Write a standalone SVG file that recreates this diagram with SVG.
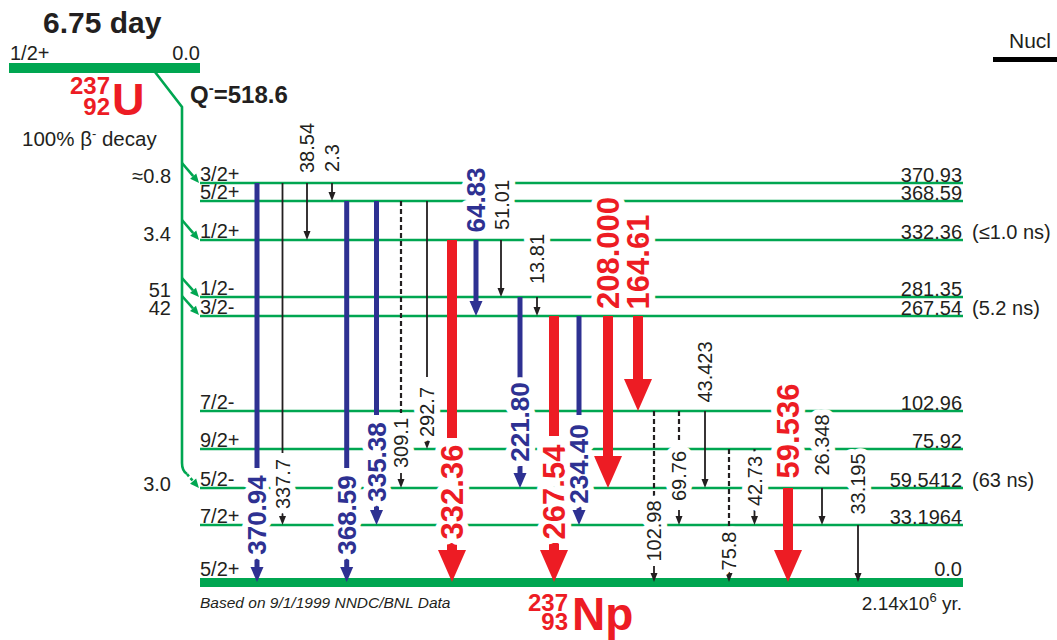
<svg xmlns="http://www.w3.org/2000/svg" width="1057" height="640" viewBox="0 0 1057 640">
<defs>
<style>
.t{font-family:"Liberation Sans",Arial,sans-serif;fill:#231f20;font-size:20px}
.e{text-anchor:end}
.b{font-weight:bold}
.lv{stroke:#00a651;stroke-width:2.6;fill:none}
.gb{fill:#00a651}
.k{stroke:#231f20;stroke-width:1.8;fill:none}
.kd{stroke:#231f20;stroke-width:2.2;fill:none;stroke-dasharray:5 3}
.bl{stroke:#2e3192;stroke-width:5;fill:none}
.rd{stroke:#ed1c24;stroke-width:10;fill:none}
.lb{font-family:"Liberation Sans",Arial,sans-serif;text-anchor:middle;stroke:#fff;stroke-width:12;stroke-linejoin:round;paint-order:stroke}
.lk{font-size:20px;fill:#231f20}
.lbl{font-size:26px;font-weight:bold;fill:#2e3192}
.lr{font-size:31px;font-weight:bold;fill:#ed1c24}
</style>
<marker id="mb" viewBox="0 -8 16 16" markerWidth="16" markerHeight="16" refX="0" refY="0" orient="auto" markerUnits="userSpaceOnUse" overflow="visible"><path d="M0,-6.5 L15,0 L0,6.5 z" fill="#2e3192"/></marker>
<marker id="mr" viewBox="0 -15 33 30" markerWidth="33" markerHeight="30" refX="0" refY="0" orient="auto" markerUnits="userSpaceOnUse" overflow="visible"><path d="M0,-14 L32,0 L0,14 z" fill="#ed1c24"/></marker>
<marker id="mk" viewBox="0 -4 10 8" markerWidth="10" markerHeight="8" refX="0" refY="0" orient="auto" markerUnits="userSpaceOnUse" overflow="visible"><path d="M0,-3.5 L9,0 L0,3.5 z" fill="#231f20"/></marker>
<marker id="mg" viewBox="0 -5 10 10" markerWidth="10" markerHeight="10" refX="0" refY="0" orient="auto" markerUnits="userSpaceOnUse" overflow="visible"><path d="M0,-4 L9,0 L0,4 z" fill="#00a651"/></marker>
</defs>
<rect width="1057" height="640" fill="#fff"/>

<g id="title">
<text class="t b" x="43" y="33" style="font-size:30px">6.75 day</text>
<text class="t" x="1009" y="48" style="font-size:21px">Nucl</text>
<rect x="993" y="57" width="64" height="5" fill="#000"/>
</g>

<g id="parent">
<rect class="gb" x="9" y="63" width="191" height="10"/>
<text class="t" x="10" y="60">1/2+</text>
<text class="t e" x="200" y="60">0.0</text>
<text class="t b" x="110" y="94" text-anchor="end" style="fill:#ed1c24;font-size:24px">237</text>
<text class="t b" x="110" y="115" text-anchor="end" style="fill:#ed1c24;font-size:24px">92</text>
<text class="t b" x="112" y="115" style="fill:#ed1c24;font-size:45px">U</text>
<text class="t b" x="190" y="103" style="font-size:24px">Q<tspan dy="-10" style="font-size:15px">-</tspan><tspan dy="10">=518.6</tspan></text>
<text class="t" x="22" y="146" style="font-size:20.5px">100% β<tspan dy="-8" style="font-size:13px">-</tspan><tspan dy="8"> decay</tspan></text>
</g>

<g id="beta-feeding">
<path class="lv" d="M155,72 L182,107 L182,463 Q182,471 187,474"/>
<line class="lv" x1="182" y1="163" x2="193.2" y2="176.1" marker-end="url(#mg)"/>
<line class="lv" x1="182" y1="220" x2="193.2" y2="233.1" marker-end="url(#mg)"/>
<line class="lv" x1="182" y1="278" x2="193" y2="290.3" marker-end="url(#mg)"/>
<line class="lv" x1="182" y1="296" x2="193" y2="308.3" marker-end="url(#mg)"/>
<line class="lv" x1="187" y1="474" x2="193.1" y2="481.2" stroke-dasharray="3 2.5" marker-end="url(#mg)"/>
<text class="t e" x="171" y="183">≈0.8</text>
<text class="t e" x="171" y="241">3.4</text>
<text class="t e" x="171" y="297">51</text>
<text class="t e" x="171" y="315">42</text>
<text class="t e" x="171" y="491">3.0</text>
</g>

<g id="L370">
<line class="lv" x1="200" y1="183" x2="963" y2="183"/>
<text class="t" x="200" y="181">3/2+</text>
<text class="t e" x="962" y="182">370.93</text>
</g>
<g id="L368">
<line class="lv" x1="200" y1="201" x2="963" y2="201"/>
<text class="t" x="200" y="199">5/2+</text>
<text class="t e" x="962" y="200">368.59</text>
</g>
<g id="L332">
<line class="lv" x1="200" y1="240" x2="963" y2="240"/>
<text class="t" x="200" y="238">1/2+</text>
<text class="t e" x="962" y="239">332.36</text>
<text class="t" x="972" y="239">(≤1.0 ns)</text>
</g>
<g id="L281">
<line class="lv" x1="200" y1="297" x2="963" y2="297"/>
<text class="t" x="200" y="295">1/2-</text>
<text class="t e" x="962" y="296">281.35</text>
</g>
<g id="L267">
<line class="lv" x1="200" y1="316" x2="963" y2="316"/>
<text class="t" x="200" y="314">3/2-</text>
<text class="t e" x="962" y="315">267.54</text>
<text class="t" x="972" y="315">(5.2 ns)</text>
</g>
<g id="L102">
<line class="lv" x1="200" y1="411" x2="963" y2="411"/>
<text class="t" x="200" y="409">7/2-</text>
<text class="t e" x="962" y="410">102.96</text>
</g>
<g id="L75">
<line class="lv" x1="200" y1="449" x2="963" y2="449"/>
<text class="t" x="200" y="447">9/2+</text>
<text class="t e" x="962" y="448">75.92</text>
</g>
<g id="L59">
<line class="lv" x1="200" y1="488" x2="963" y2="488"/>
<text class="t" x="200" y="486">5/2-</text>
<text class="t e" x="962" y="487">59.5412</text>
<text class="t" x="972" y="487">(63 ns)</text>
</g>
<g id="L33">
<line class="lv" x1="200" y1="525" x2="963" y2="525"/>
<text class="t" x="200" y="523">7/2+</text>
<text class="t e" x="962" y="524">33.1964</text>
</g>
<g id="L0">
<rect class="gb" x="200" y="578" width="763" height="9"/>
<text class="t" x="200" y="576">5/2+</text>
<text class="t e" x="962" y="576">0.0</text>
<text class="t e" x="962" y="610" style="font-size:19px">2.14x10<tspan dy="-8" style="font-size:13px">6</tspan><tspan dy="8"> yr.</tspan></text>
<text class="t" x="200" y="608" style="font-size:15.5px;font-style:italic">Based on 9/1/1999 NNDC/BNL Data</text>
<text class="t b" x="568" y="611" text-anchor="end" style="fill:#ed1c24;font-size:24px">237</text>
<text class="t b" x="568" y="630" text-anchor="end" style="fill:#ed1c24;font-size:24px">93</text>
<text class="t b" x="572" y="630" style="fill:#ed1c24;font-size:46px">Np</text>
</g>

<g id="connectors">
<line class="bl" x1="257" y1="183" x2="257" y2="468"/>
<line class="bl" x1="257" y1="558" x2="257" y2="567" marker-end="url(#mb)"/>
<line class="k" x1="282.5" y1="183" x2="282.5" y2="453"/>
<line class="k" x1="282.5" y1="511" x2="282.5" y2="516" marker-end="url(#mk)"/>
<line class="k" x1="307" y1="183" x2="307" y2="231" marker-end="url(#mk)"/>
<line class="k" x1="332" y1="183" x2="332" y2="192" marker-end="url(#mk)"/>
<line class="bl" x1="346.7" y1="201" x2="346.7" y2="468"/>
<line class="bl" x1="346.7" y1="558" x2="346.7" y2="567" marker-end="url(#mb)"/>
<line class="bl" x1="376.5" y1="201" x2="376.5" y2="415"/>
<line class="bl" x1="376.5" y1="505" x2="376.5" y2="510" marker-end="url(#mb)"/>
<line class="kd" x1="401" y1="201" x2="401" y2="413"/>
<line class="k" x1="401" y1="473" x2="401" y2="479" marker-end="url(#mk)"/>
<line class="k" x1="427" y1="201" x2="427" y2="377"/>
<line class="k" x1="427" y1="437" x2="427" y2="440" marker-end="url(#mk)"/>
<line class="rd" x1="452" y1="240" x2="452" y2="438"/>
<line class="rd" x1="452" y1="543" x2="452" y2="550" marker-end="url(#mr)"/>
<line class="bl" x1="476" y1="240" x2="476" y2="301" marker-end="url(#mb)"/>
<line class="k" x1="501" y1="240" x2="501" y2="288" marker-end="url(#mk)"/>
<line class="bl" x1="520" y1="297" x2="520" y2="378"/>
<line class="bl" x1="520" y1="466" x2="520" y2="473" marker-end="url(#mb)"/>
<line class="k" x1="537" y1="297" x2="537" y2="307" marker-end="url(#mk)"/>
<line class="rd" x1="554" y1="316" x2="554" y2="436"/>
<line class="rd" x1="554" y1="543" x2="554" y2="550" marker-end="url(#mr)"/>
<line class="bl" x1="579" y1="316" x2="579" y2="415"/>
<line class="bl" x1="579" y1="505" x2="579" y2="510" marker-end="url(#mb)"/>
<line class="rd" x1="608" y1="316" x2="608" y2="456" marker-end="url(#mr)"/>
<line class="rd" x1="638" y1="316" x2="638" y2="379" marker-end="url(#mr)"/>
<line class="kd" x1="654" y1="411" x2="654" y2="496"/>
<line class="k" x1="654" y1="566" x2="654" y2="573" marker-end="url(#mk)"/>
<line class="kd" x1="679" y1="411" x2="679" y2="443"/>
<line class="k" x1="679" y1="510" x2="679" y2="516" marker-end="url(#mk)"/>
<line class="k" x1="705" y1="411" x2="705" y2="479" marker-end="url(#mk)"/>
<line class="kd" x1="729" y1="449" x2="729" y2="532"/>
<line class="k" x1="729" y1="568" x2="729" y2="573" marker-end="url(#mk)"/>
<line class="kd" x1="754.5" y1="449" x2="754.5" y2="456"/>
<line class="k" x1="754.5" y1="510" x2="754.5" y2="516" marker-end="url(#mk)"/>
<line class="rd" x1="788" y1="488" x2="788" y2="550" marker-end="url(#mr)"/>
<line class="k" x1="822" y1="488" x2="822" y2="516" marker-end="url(#mk)"/>
<line class="k" x1="858" y1="525" x2="858" y2="573" marker-end="url(#mk)"/>
<text class="lb lbl" transform="translate(257,515) rotate(-90)" y="9.3">370.94</text>
<text class="lb lk" transform="translate(282.5,484) rotate(-90)" y="7.2">337.7</text>
<text class="lb lk" transform="translate(307,148) rotate(-90)" y="7.2">38.54</text>
<text class="lb lk" transform="translate(332,158) rotate(-90)" y="7.2">2.3</text>
<text class="lb lbl" transform="translate(346.7,515) rotate(-90)" y="9.3">368.59</text>
<text class="lb lbl" transform="translate(376.5,462) rotate(-90)" y="9.3">335.38</text>
<text class="lb lk" transform="translate(401,443) rotate(-90)" y="7.2">309.1</text>
<text class="lb lk" transform="translate(427,412) rotate(-90)" y="7.2">292.7</text>
<text class="lb lr" transform="translate(452,492) rotate(-90)" y="11.1">332.36</text>
<text class="lb lbl" transform="translate(476,200) rotate(-90)" y="9.3">64.83</text>
<text class="lb lk" transform="translate(502,205) rotate(-90)" y="7.2">51.01</text>
<text class="lb lbl" transform="translate(520,422) rotate(-90)" y="9.3">221.80</text>
<text class="lb lk" transform="translate(537,259) rotate(-90)" y="7.2">13.81</text>
<text class="lb lr" transform="translate(554,492) rotate(-90)" y="11.1">267.54</text>
<text class="lb lbl" transform="translate(579,464) rotate(-90)" y="9.3">234.40</text>
<text class="lb lr" transform="translate(608,253) rotate(-90)" y="11.1">208.000</text>
<text class="lb lr" transform="translate(638,262) rotate(-90)" y="11.1">164.61</text>
<text class="lb lk" transform="translate(654,531) rotate(-90)" y="7.2">102.98</text>
<text class="lb lk" transform="translate(679,476) rotate(-90)" y="7.2">69.76</text>
<text class="lb lk" transform="translate(705,372) rotate(-90)" y="7.2">43.423</text>
<text class="lb lk" transform="translate(729,551) rotate(-90)" y="7.2">75.8</text>
<text class="lb lk" transform="translate(754.5,481) rotate(-90)" y="7.2">42.73</text>
<text class="lb lr" transform="translate(788,431) rotate(-90)" y="11.1">59.536</text>
<text class="lb lk" transform="translate(822,445) rotate(-90)" y="7.2">26.348</text>
<text class="lb lk" transform="translate(858,484) rotate(-90)" y="7.2">33.195</text>
</g>
</svg>
